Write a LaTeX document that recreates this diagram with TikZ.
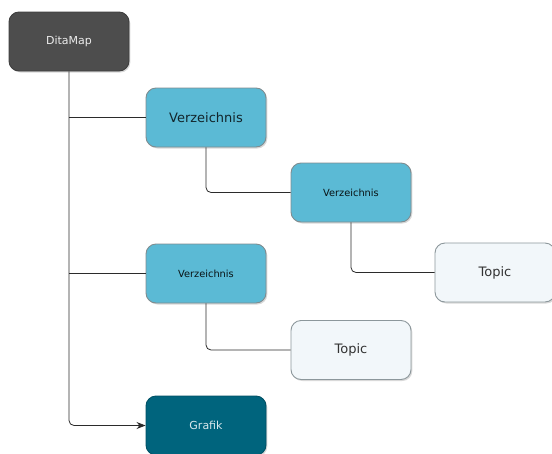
\documentclass[tikz,border=0pt]{standalone}
\usepackage{fontspec}
\setmainfont{DejaVu Sans}
\usetikzlibrary{arrows.meta,shadows}
\definecolor{dmfill}{HTML}{4D4D4D}
\definecolor{vfill}{HTML}{5BBAD5}
\definecolor{tfill}{HTML}{F2F7FA}
\definecolor{gfill}{HTML}{00647D}
\definecolor{bordergray}{HTML}{7F8C90}
\definecolor{linec}{HTML}{2B2B2B}
\tikzset{
  boxbase/.style={rounded corners=10pt, minimum width=120pt, minimum height=59pt,
    inner sep=0pt, draw=bordergray, line width=0.9pt,
    drop shadow={shadow xshift=1.3pt, shadow yshift=-1.5pt, opacity=0.3}},
  dmbox/.style={boxbase, fill=dmfill, draw=dmfill!80!black, text=white!85!gray, font=\fontsize{11}{13}\selectfont},
  vbig/.style={boxbase, fill=vfill, text=black!80!vfill, font=\fontsize{13}{15}\selectfont},
  vsmall/.style={boxbase, fill=vfill, text=black!90!vfill, font=\fontsize{9.8}{11}\selectfont},
  topicbox/.style={boxbase, fill=tfill, draw=bordergray!90, text=black!80, font=\fontsize{13}{15}\selectfont},
  gbox/.style={boxbase, fill=gfill, draw=gfill!80!black, text=white!85!gfill, font=\fontsize{11}{13}\selectfont},
  conn/.style={draw=linec, line width=0.8pt, rounded corners=5pt},
}
\begin{document}
\begin{tikzpicture}[x=1pt,y=-1pt]
\useasboundingbox (0,0) rectangle (552,453);
\node[dmbox] (dm) at (69,41.5) {DitaMap};
\node[vbig] (v1) at (206,117.5) {Verzeichnis};
\node[vsmall] (v2) at (351,192.5) {Verzeichnis};
\node[topicbox] (t1) at (495,272.5) {Topic};
\node[vsmall] (v3) at (206,273.5) {Verzeichnis};
\node[topicbox] (t2) at (351,350) {Topic};
\node[gbox] (g) at (206,425.5) {Grafik};
\draw[conn, -{Stealth[length=9pt,width=7pt]}] (dm.south) |- (g.west);
\draw[conn] (dm.south |- v1.west) -- (v1.west);
\draw[conn] (dm.south |- v3.west) -- (v3.west);
\draw[conn] (v1.south) |- (v2.west);
\draw[conn] (v2.south) |- (t1.west);
\draw[conn] (v3.south) |- (t2.west);
\end{tikzpicture}
\end{document}
